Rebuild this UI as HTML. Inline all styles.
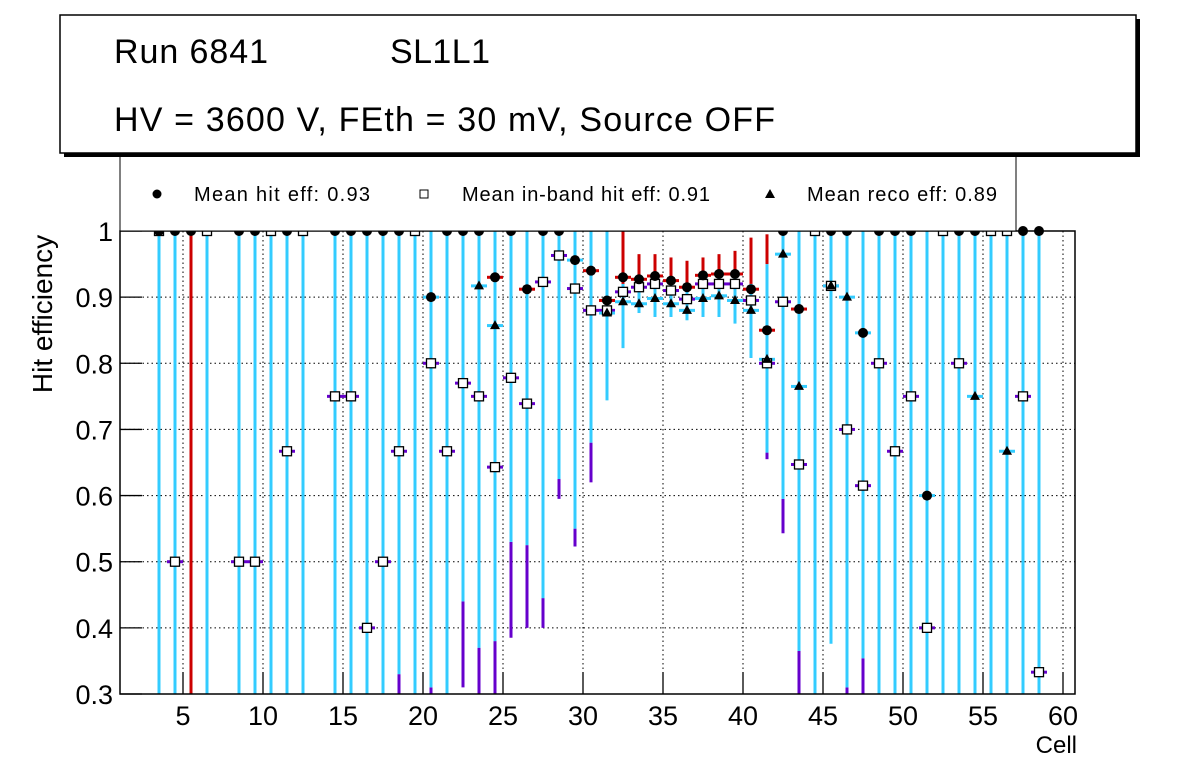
<!DOCTYPE html>
<html><head><meta charset="utf-8"><style>
html,body{margin:0;padding:0;background:#fff;}
svg{display:block;font-family:"Liberation Sans",sans-serif;}
</style></head><body>
<svg id="chart" width="1196" height="772" viewBox="0 0 1196 772">
<defs><clipPath id="pc"><rect x="120" y="231" width="955" height="463"/></clipPath></defs>
<rect x="0" y="0" width="1196" height="772" fill="#fff"/>
<g id="grid"></g>
<g id="errs" clip-path="url(#pc)"></g>
<g id="marks" clip-path="url(#pc)"></g>
<g id="marks2"></g>
<rect x="120" y="231" width="955" height="463" fill="none" stroke="#000" stroke-width="1.5"/>
<g id="axes"></g>
<text x="52" y="314" font-size="28" transform="rotate(-90 52 314)" text-anchor="middle">Hit efficiency</text>
<text x="1077" y="753" font-size="24" text-anchor="end">Cell</text>
<g>
<rect x="120" y="150" width="896" height="81" fill="#fff" stroke="#000" stroke-width="1"/>
<circle cx="157" cy="194" r="4.5" fill="#000"/>
<text x="194" y="201" font-size="20" textLength="176">Mean hit  eff: 0.93</text>
<rect x="420" y="190" width="8" height="8" fill="#fff" stroke="#000"/>
<text x="462" y="201" font-size="20" textLength="248">Mean in-band hit eff: 0.91</text>
<polygon points="770,189 775,198 765,198" fill="#000"/>
<text x="807" y="201" font-size="20" textLength="190">Mean reco eff: 0.89</text>
</g>
<g>
<rect x="64" y="19" width="1076" height="138" fill="#000"/>
<rect x="60" y="15" width="1076" height="138" fill="#fff" stroke="#000" stroke-width="1.5"/>
<text x="114" y="63" font-size="34" textLength="154">Run 6841</text>
<text x="390" y="63" font-size="34" textLength="100">SL1L1</text>
<text x="114" y="131" font-size="34" textLength="661">HV = 3600 V, FEth = 30 mV, Source OFF</text>
</g>
</svg>
<script>
const cells = [3,4,5,6,8,9,10,11,12,14,15,16,17,18,19,20,21,22,23,24,25,26,27,28,29,30,31,32,33,34,35,36,37,38,39,40,41,42,43,44,45,46,47,48,49,50,51,52,53,54,55,56,57,58];
const hitEff = [1,1,1,null,1,1,null,1,null,1,1,1,1,1,null,0.9,1,1,1,0.93,1,0.912,1,1,0.956,0.94,0.895,0.93,0.927,0.932,0.925,0.915,0.933,0.935,0.935,0.912,0.85,1,0.882,null,1,1,0.846,1,1,1,0.6,null,1,1,null,null,1,1];
const inbandEff = [1,0.5,null,1,0.5,0.5,1,0.667,1,0.75,0.75,0.4,0.5,0.667,1,0.8,0.667,0.77,0.75,0.643,0.778,0.739,0.923,0.963,0.913,0.88,0.88,0.908,0.915,0.92,0.91,0.897,0.92,0.92,0.92,0.895,0.8,0.893,0.647,1,0.917,0.7,0.615,0.8,0.667,0.75,0.4,1,0.8,null,1,1,0.75,0.333];
const recoEff = [null,null,null,null,null,null,null,null,null,null,null,null,null,null,null,null,null,null,0.917,0.857,null,null,null,null,null,null,0.876,0.893,0.89,0.898,0.89,0.88,0.898,0.902,0.895,0.88,0.806,0.965,0.765,null,0.917,0.9,null,null,null,null,null,null,null,0.75,null,0.667,null,null];
const cyanLow = [0.3,0.3,1,0.3,0.3,0.3,0.3,0.3,0.3,0.3,0.3,0.3,0.3,0.33,0.3,0.31,0.3,0.44,0.37,0.38,0.53,0.525,0.445,0.625,0.55,0.68,0.744,0.823,0.876,0.87,0.87,0.865,0.87,0.87,0.86,0.808,0.665,0.595,0.365,0.3,0.376,0.31,0.354,0.3,0.3,0.3,0.3,0.3,0.3,0.3,0.3,0.3,0.3,0.3];
const purpleLow = [0.3,0.3,0.3,0.3,0.3,0.3,0.3,0.3,0.3,0.3,0.3,0.3,0.3,0.3,0.3,0.3,0.3,0.31,0.3,0.3,0.385,0.40,0.40,0.595,0.523,0.62,0.744,0.823,0.876,0.87,0.87,0.865,0.87,0.87,0.86,0.808,0.655,0.543,0.3,0.3,0.376,0.3,0.3,0.3,0.3,0.3,0.3,0.3,0.3,0.3,0.3,0.3,0.3,0.3];
const redHigh = [1,1,1,1,1,1,1,1,1,1,1,1,1,1,1,1,1,1,1,0.94,1,1,1,1,1,1,1,1,0.965,0.965,0.96,0.955,0.96,0.965,0.97,0.99,0.995,1,1,1,1,1,1,1,1,1,1,1,1,1,1,1,1,1];
const cyanHigh = [1,1,1,1,1,1,1,1,1,1,1,1,1,1,1,1,1,1,1,1,1,1,1,1,1,1,1,0.92,0.93,0.935,0.93,0.92,0.935,0.94,0.94,0.92,0.95,1,1,1,1,1,1,1,1,1,1,1,1,1,1,1,1,1];
const yTicks = ["0.3","0.4","0.5","0.6","0.7","0.8","0.9","1"];
const xTicks = ["5","10","15","20","25","30","35","40","45","50","55","60"];

const NS = "http://www.w3.org/2000/svg";
const X = v => 103 + v * 16;
const Y = v => 694 - (v - 0.3) / 0.7 * 463;
function mk(tag, attrs, parent) {
  const e = document.createElementNS(NS, tag);
  for (const k in attrs) e.setAttribute(k, attrs[k]);
  parent.appendChild(e);
  return e;
}
const grid = document.getElementById('grid'), axes = document.getElementById('axes');
const errs = document.getElementById('errs'), marks = document.getElementById('marks'), marks2 = document.getElementById('marks2');
yTicks.forEach(t => {
  const v = parseFloat(t), y = Y(v);
  const g = mk('line', {x1:120, x2:1075, y1:y, y2:y, stroke:'#000', 'stroke-width':1, 'stroke-dasharray':'1.5 3'}, grid);
  
  
  const tk = mk('line', {x1:120, x2:142, y1:y, y2:y, stroke:'#000', 'stroke-width':1.3}, axes);
  
  
  const tx = mk('text', {x:113, y:y + 10, 'font-size':27, 'text-anchor':'end'}, axes);
  tx.textContent = t;
  
  
});
xTicks.forEach(t => {
  const x = X(parseFloat(t));
  const g = mk('line', {x1:x, x2:x, y1:231, y2:694, stroke:'#000', 'stroke-width':1, 'stroke-dasharray':'1.5 3'}, grid);
  
  
  const tk = mk('line', {x1:x, x2:x, y1:672, y2:694, stroke:'#000', 'stroke-width':1.3}, axes);
  
  
  const tx = mk('text', {x:x, y:725, 'font-size':27, 'text-anchor':'middle'}, axes);
  tx.textContent = t;
  
  
});
function vline(x, a, b, col, w) {
  if (b <= a) return;
  const l = mk('line', {x1:x, x2:x, y1:Y(a), y2:Y(b), stroke:col, 'stroke-width':w || 3}, errs);
  
  
}
function hline(x, y, col) {
  const l = mk('line', {x1:x - 8, x2:x + 8, y1:Y(y), y2:Y(y), stroke:col, 'stroke-width':3}, errs);
  
  
}
cells.forEach((c, i) => {
  const x = X(c + 0.5);
  vline(x, purpleLow[i], cyanLow[i], '#6600cc');
  if (c === 5) vline(x, 0.3, 1, '#cc0000');
  else vline(x, cyanLow[i], cyanHigh[i], '#33ccff');
  if (cyanHigh[i] < 1 || redHigh[i] < 1) vline(x, cyanHigh[i], redHigh[i], '#cc0000');
  if (hitEff[i] !== null && hitEff[i] < 1) hline(x, hitEff[i], (c >= 24 && c <= 43 && c !== 25 && c !== 28 && c !== 29) ? '#cc0000' : '#33ccff');
  if (inbandEff[i] !== null && inbandEff[i] < 1) hline(x, inbandEff[i], '#6600cc');
  if (recoEff[i] !== null && recoEff[i] < 1) hline(x, recoEff[i], '#33ccff');
});
cells.forEach((c, i) => {
  const x = X(c + 0.5);
  if (inbandEff[i] !== null) {
    const s = mk('rect', {x:x - 4.5, y:Y(inbandEff[i]) - 4.5, width:9, height:9, fill:'#fff', stroke:'#000', 'stroke-width':1.3}, marks);
    
    
  }
  if (recoEff[i] !== null) {
    const y = Y(recoEff[i]);
    const t = mk('polygon', {points:`${x},${y - 5.5} ${x + 5},${y + 3.5} ${x - 5},${y + 3.5}`, fill:'#000'}, marks);
    
    
  }
  if (hitEff[i] !== null) {
    const parent = c >= 57 ? marks2 : marks;
    const p = mk('circle', {cx:x, cy:Y(hitEff[i]), r:5, fill:'#000'}, parent);
    
    
  }
});
</script>
</body></html>
